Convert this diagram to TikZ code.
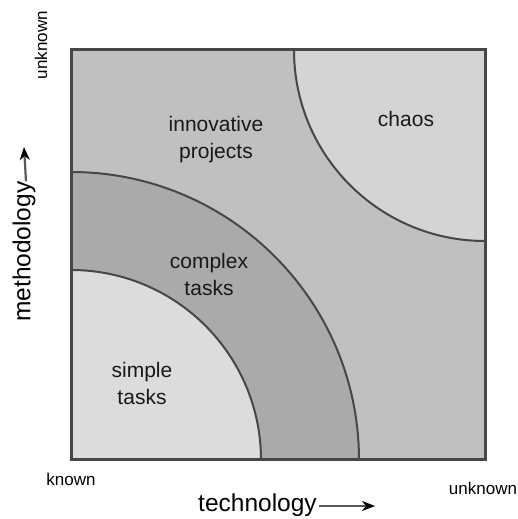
\documentclass[tikz,border=0pt]{standalone}
\usepackage{fontspec}
\setmainfont{Liberation Sans}
\usetikzlibrary{arrows.meta}
\definecolor{simplegray}{HTML}{DCDCDC}
\definecolor{complexgray}{HTML}{AAAAAA}
\definecolor{innovgray}{HTML}{C0C0C0}
\definecolor{chaosgray}{HTML}{D4D4D4}
\definecolor{edgegray}{HTML}{474747}
\tikzset{
  region/.style={font=\fontsize{21}{27}\selectfont,align=center,text=black!90},
  endlabel/.style={font=\fontsize{17}{19}\selectfont},
  axislabel/.style={font=\fontsize{24.5}{26}\selectfont},
  axisarrow/.style={draw=black!65,line width=2.2pt,-{Stealth[length=13pt,width=10pt,inset=4pt,color=black]}},
  boundary/.style={draw=edgegray,line width=2pt}
}
\begin{document}
\begin{tikzpicture}[x=1pt,y=1pt]
\useasboundingbox (0,0) rectangle (518,519);
% quadrant regions
\fill[innovgray] (71,59) rectangle (485,469);
\fill[complexgray] (71,59) -- (359,59) arc[start angle=0,end angle=90,radius=288] -- cycle;
\fill[simplegray] (71,59) -- (261,59) arc[start angle=0,end angle=90,radius=190] -- cycle;
\fill[chaosgray] (485,469) -- (294,469) arc[start angle=180,end angle=270,radius=191] -- cycle;
\draw[boundary] (359,59) arc[start angle=0,end angle=90,radius=288];
\draw[boundary] (261,59) arc[start angle=0,end angle=90,radius=190];
\draw[boundary] (294,469) arc[start angle=180,end angle=270,radius=191];
\draw[draw=edgegray,line width=3pt] (71,59) rectangle (485,469);
% region names
\node[region] (innov) at (216,379) {innovative\\projects};
\node[region] (chaos) at (406,400) {chaos};
\node[region] (complex) at (209,245) {complex\\tasks};
\node[region] (simple) at (142,136) {simple\\tasks};
% axes
\node[endlabel] (known) at (71,40) {known};
\node[endlabel] (unkx) at (483,31) {unknown};
\node[endlabel,rotate=90] (unky) at (41,474) {unknown};
\node[axislabel,anchor=west,inner sep=0pt] (tech) at (198,14) {technology};
\coordinate (techend) at (375,13);
\draw[axisarrow] ([xshift=2pt,yshift=-1pt]tech.east) -- (techend);
\node[axislabel,rotate=90,anchor=west,inner sep=0pt] (meth) at (24,197) {methodology};
\coordinate (methend) at (24,372);
\draw[axisarrow] ([xshift=2pt]meth.east) -- (methend);
\end{tikzpicture}
\end{document}
